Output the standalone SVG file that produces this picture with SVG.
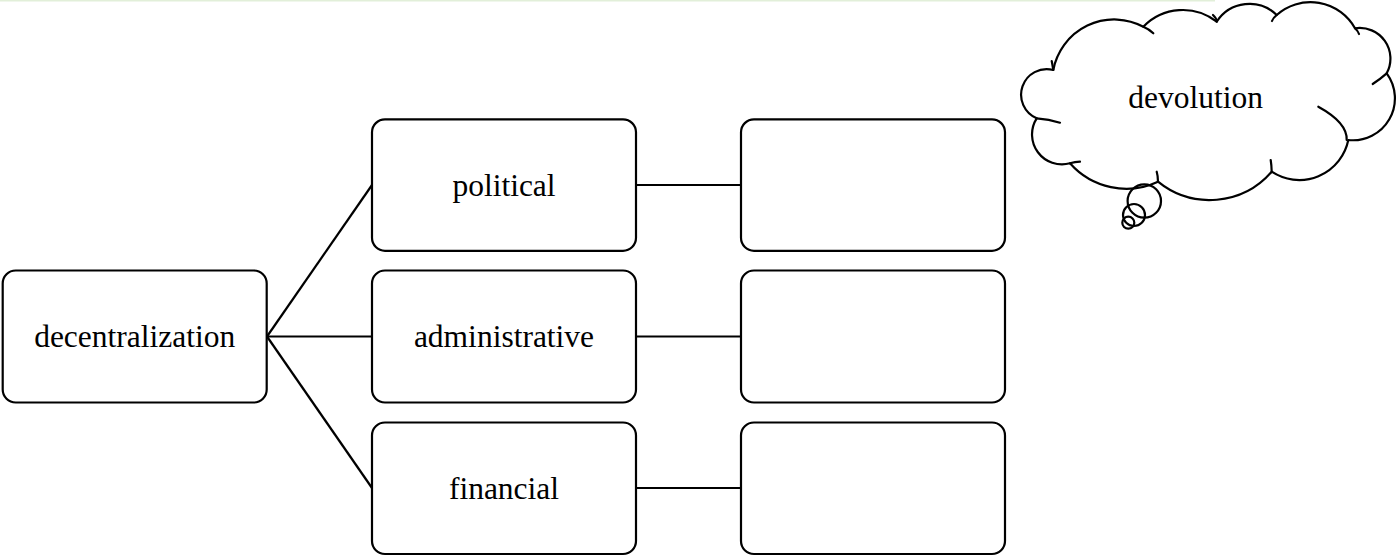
<svg xmlns="http://www.w3.org/2000/svg" width="1398" height="556" viewBox="0 0 1398 556">
<style>
.box{fill:#fff;stroke:#000;stroke-width:2.2}
.lbl{font-family:"Liberation Serif","Times New Roman",serif;font-size:31.5px;fill:#000;text-anchor:middle}
.con{stroke:#000;stroke-width:2.2;fill:none}
.cl{fill:none;stroke:#000;stroke-width:2.2;stroke-linecap:round;stroke-linejoin:round}
</style>
<rect width="1398" height="556" fill="#fff"/>
<line x1="0" y1="0.8" x2="1215" y2="0.8" stroke="#e2efd9" stroke-width="1.6"/>
<g id="connectors">
<line class="con" x1="267" y1="336.5" x2="372" y2="185"/>
<line class="con" x1="267" y1="336.5" x2="372" y2="336.5"/>
<line class="con" x1="267" y1="336.5" x2="372" y2="488"/>
<line class="con" x1="636" y1="185" x2="741" y2="185"/>
<line class="con" x1="636" y1="336.5" x2="741" y2="336.5"/>
<line class="con" x1="636" y1="488" x2="741" y2="488"/>
</g>
<g id="decentralization">
<rect class="box" x="2.7" y="270.5" width="264" height="132" rx="13"/>
<text class="lbl" x="134.7" y="347">decentralization</text>
</g>
<g id="political">
<rect class="box" x="372" y="119.3" width="264" height="131.5" rx="13"/>
<text class="lbl" x="504" y="195.5">political</text>
</g>
<g id="administrative">
<rect class="box" x="372" y="270.5" width="264" height="132" rx="13"/>
<text class="lbl" x="504" y="347">administrative</text>
</g>
<g id="financial">
<rect class="box" x="372" y="422.5" width="264" height="131.5" rx="13"/>
<text class="lbl" x="504" y="498.5">financial</text>
</g>
<g id="box-political-detail">
<rect class="box" x="741" y="119.3" width="264" height="131.5" rx="13"/>
</g>
<g id="box-administrative-detail">
<rect class="box" x="741" y="270.5" width="264" height="132" rx="13"/>
</g>
<g id="box-financial-detail">
<rect class="box" x="741" y="422.5" width="264" height="131.5" rx="13"/>
</g>
<g id="devolution">
<path class="cl" fill="#fff" d="M1143.3,26.7 A55,55 0 0 1 1216.7,21.7 A39,39 0 0 1 1276.7,15 A51,51 0 0 1 1355,28.3 A30.7,30.7 0 0 1 1386.7,73.3 A42,42 0 0 1 1348.3,140 A50,50 0 0 1 1271.7,171.7 A82,82 0 0 1 1158,181.7 A75,75 0 0 1 1070,163.3 A30,30 0 0 1 1036.7,118.3 A25.6,25.6 0 0 1 1053.3,70 A62,62 0 0 1 1143.3,26.7 Z"/>
<path class="cl" d="M1143.3,26.7 Q1149,29 1153.3,33.3"/>
<path class="cl" d="M1216.7,21.7 Q1216.5,18 1213,15"/>
<path class="cl" d="M1276.7,15 Q1273,18 1272,21"/>
<path class="cl" d="M1355,28.3 Q1358,31 1359,34"/>
<path class="cl" d="M1386.7,73.3 Q1379,80 1372.7,84"/>
<path class="cl" d="M1318.3,106.7 Q1347.5,122.7 1346.7,140"/>
<path class="cl" d="M1271.7,171.7 Q1271.5,165 1270.7,160"/>
<path class="cl" d="M1158,181.7 Q1158,176 1156.7,171.7"/>
<path class="cl" d="M1070,163.3 Q1075,162 1080,161.7"/>
<path class="cl" d="M1036.7,118.3 Q1049,119 1060,122.7"/>
<path class="cl" d="M1053.3,70 Q1052.5,65 1051.7,61"/>
<circle class="cl" fill="#fff" cx="1144.3" cy="201" r="16.7"/>
<circle class="cl" cx="1134" cy="215" r="11"/>
<circle class="cl" cx="1128.3" cy="222.7" r="6"/>
<text class="lbl" x="1195.7" y="107.7">devolution</text>
</g>
</svg>
